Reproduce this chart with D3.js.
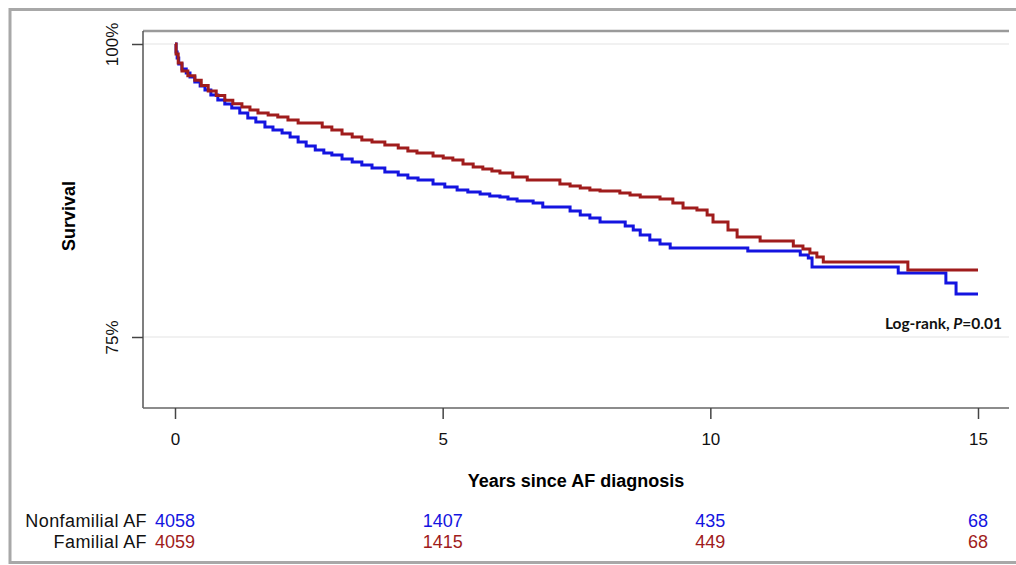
<!DOCTYPE html>
<html>
<head>
<meta charset="utf-8">
<script src="https://cdn.jsdelivr.net/npm/d3@7"></script>
<style>
  body { margin: 0; background: #fff; }
  svg { display: block; font-family: "Liberation Sans", Arial, sans-serif; }
</style>
</head>
<body>
<svg id="km"></svg>
<script>
// Kaplan-Meier survival (years, survival %)
const nonfamilialTime = [0, 0.02, 0.04, 0.07, 0.13, 0.21, 0.28, 0.37, 0.47, 0.56, 0.67, 0.80, 0.93, 1.06, 1.21, 1.36, 1.51, 1.68, 1.83, 2.00, 2.15, 2.30, 2.45, 2.62, 2.78, 2.93, 3.12, 3.31, 3.49, 3.68, 3.92, 4.17, 4.35, 4.54, 4.82, 5.04, 5.27, 5.47, 5.70, 5.88, 6.07, 6.22, 6.39, 6.69, 6.87, 7.38, 7.57, 7.75, 7.94, 8.41, 8.56, 8.69, 8.87, 9.06, 9.25, 10.70, 11.68, 11.83, 11.90, 13.51, 14.40, 14.59, 15.0];
const nonfamilialSurv = [100, 99.32, 98.81, 98.29, 97.87, 97.53, 97.18, 96.76, 96.42, 96.08, 95.65, 95.22, 94.88, 94.54, 94.11, 93.69, 93.35, 92.92, 92.66, 92.41, 92.07, 91.64, 91.30, 90.96, 90.70, 90.53, 90.19, 89.93, 89.68, 89.42, 89.08, 88.82, 88.57, 88.40, 88.06, 87.80, 87.54, 87.37, 87.20, 87.03, 86.95, 86.78, 86.61, 86.43, 86.09, 85.75, 85.41, 85.15, 84.81, 84.47, 84.13, 83.70, 83.28, 82.94, 82.60, 82.34, 82.00, 81.74, 80.97, 80.46, 79.61, 78.67, 78.67];

const familialTime = [0, 0.02, 0.06, 0.13, 0.24, 0.37, 0.49, 0.62, 0.77, 0.93, 1.08, 1.25, 1.40, 1.55, 1.74, 1.92, 2.11, 2.30, 2.75, 2.93, 3.12, 3.31, 3.49, 3.68, 3.92, 4.17, 4.35, 4.52, 4.82, 5.01, 5.19, 5.38, 5.57, 5.75, 5.92, 6.07, 6.31, 6.58, 7.19, 7.38, 7.57, 7.75, 7.94, 8.31, 8.50, 8.69, 9.06, 9.30, 9.49, 9.75, 9.94, 10.05, 10.33, 10.50, 10.93, 11.55, 11.73, 11.86, 11.99, 12.11, 13.69, 15.0];
const familialSurv = [100, 99.15, 98.38, 97.70, 97.30, 96.90, 96.45, 96.00, 95.60, 95.20, 94.90, 94.62, 94.37, 94.11, 93.94, 93.77, 93.52, 93.26, 92.92, 92.66, 92.32, 92.07, 91.81, 91.64, 91.38, 91.13, 90.87, 90.70, 90.44, 90.27, 90.10, 89.76, 89.51, 89.34, 89.16, 88.99, 88.65, 88.40, 88.06, 87.89, 87.71, 87.54, 87.46, 87.29, 87.12, 86.95, 86.78, 86.43, 86.01, 85.84, 85.41, 84.81, 84.13, 83.53, 83.19, 82.77, 82.51, 82.17, 81.83, 81.40, 80.72, 80.72];

const xTicks = [0, 5, 10, 15];
const yTicks = [75, 100];
const groupNames = ["Nonfamilial AF", "Familial AF"];
const atRiskNonfamilial = [4058, 1407, 435, 68];
const atRiskFamilial = [4059, 1415, 449, 68];

const w = 1016;
const h = 565;
const blue = "#1414e0";
const red = "#a01c1c";

const svg = d3.select("#km").attr("width", w).attr("height", h);

// outer frame
svg.append("path")
  .attr("d", "M1016,9.5 H10 V562.5 H1016")
  .attr("fill", "none")
  .attr("stroke", "#a8a8a8")
  .attr("stroke-width", 3);

const plot = { left: 143, right: 1009, top: 31, bottom: 408 };

const xScale = d3.scaleLinear().domain([0, 15]).range([175, 978]);
const yScale = d3.scaleLinear().domain([75, 100]).range([337, 44]);

// light grid lines
svg.append("g")
  .selectAll("line")
  .data(yTicks)
  .enter()
  .append("line")
  .attr("x1", plot.left)
  .attr("x2", plot.right)
  .attr("y1", (d) => yScale(d))
  .attr("y2", (d) => yScale(d))
  .attr("stroke", "#ececec")
  .attr("stroke-width", 1.5);

// plot box (top, left, bottom)
svg.append("line")
  .attr("x1", plot.left).attr("x2", plot.right)
  .attr("y1", plot.top).attr("y2", plot.top)
  .attr("stroke", "#9a9a9a").attr("stroke-width", 2.5);
svg.append("line")
  .attr("x1", plot.left).attr("x2", plot.left)
  .attr("y1", plot.top).attr("y2", plot.bottom)
  .attr("stroke", "#555").attr("stroke-width", 1.5);
svg.append("line")
  .attr("x1", plot.left).attr("x2", plot.right)
  .attr("y1", plot.bottom).attr("y2", plot.bottom)
  .attr("stroke", "#666").attr("stroke-width", 1.5);

// axes
const xAxis = d3.axisBottom(xScale).tickValues(xTicks).tickSize(11).tickPadding(14);
const gx = svg.append("g")
  .attr("transform", "translate(0," + plot.bottom + ")")
  .call(xAxis);
gx.select(".domain").remove();
gx.selectAll(".tick line").attr("stroke", "#444").attr("stroke-width", 1.5);
gx.selectAll(".tick text")
  .style("font-size", "17px")
  .style("font-family", "Liberation Sans, Arial, sans-serif")
  .attr("fill", "#111");

const yAxis = d3.axisLeft(yScale).tickValues(yTicks).tickSize(11).tickFormat((d) => d + "%");
const gy = svg.append("g")
  .attr("transform", "translate(" + plot.left + ",0)")
  .call(yAxis);
gy.select(".domain").remove();
gy.selectAll(".tick line").attr("stroke", "#444").attr("stroke-width", 1.5);
gy.selectAll(".tick text")
  .attr("x", null)
  .attr("dy", null)
  .attr("text-anchor", "middle")
  .attr("transform", "translate(-25,0) rotate(-90)")
  .style("font-size", "17px")
  .style("font-family", "Liberation Sans, Arial, sans-serif")
  .attr("fill", "#111");

// axis titles
svg.append("text")
  .attr("x", 576)
  .attr("y", 487)
  .attr("text-anchor", "middle")
  .style("font-size", "18px")
  .style("font-weight", "bold")
  .text("Years since AF diagnosis");
svg.append("text")
  .attr("transform", "translate(75,216) rotate(-90)")
  .attr("text-anchor", "middle")
  .style("font-size", "18px")
  .style("font-weight", "bold")
  .text("Survival");

// survival curves
const line = d3.line()
  .x((d) => xScale(d[0]))
  .y((d) => yScale(d[1]))
  .curve(d3.curveStepAfter);

const nonfamilial = nonfamilialTime.map((t, i) => [t, nonfamilialSurv[i]]);
const familial = familialTime.map((t, i) => [t, familialSurv[i]]);

svg.append("path")
  .datum(nonfamilial)
  .attr("d", line)
  .attr("fill", "none")
  .attr("stroke", blue)
  .attr("stroke-width", 3);
svg.append("path")
  .datum(familial)
  .attr("d", line)
  .attr("fill", "none")
  .attr("stroke", red)
  .attr("stroke-width", 3);

// log-rank annotation
const lr = svg.append("text")
  .attr("x", 1002)
  .attr("y", 329)
  .attr("text-anchor", "end")
  .style("font-family", "Lato, 'Open Sans', sans-serif")
  .style("font-size", "15.5px")
  .style("font-weight", "bold")
  .attr("fill", "#111");
lr.append("tspan").text("Log-rank, ");
lr.append("tspan").style("font-style", "italic").text("P");
lr.append("tspan").text("=0.01");

// numbers at risk
const rows = [
  { name: groupNames[0], values: atRiskNonfamilial, color: blue, y: 527 },
  { name: groupNames[1], values: atRiskFamilial, color: red, y: 548 },
];
rows.forEach((row) => {
  svg.append("text")
    .attr("x", 147)
    .attr("y", row.y)
    .attr("text-anchor", "end")
    .style("font-size", "18px")
    .style("letter-spacing", "0.4px")
    .attr("fill", "#111")
    .text(row.name);
  svg.append("g")
    .selectAll("text")
    .data(row.values)
    .enter()
    .append("text")
    .attr("x", (d, i) => xScale(xTicks[i]))
    .attr("y", row.y)
    .attr("text-anchor", "middle")
    .style("font-size", "18px")
    .attr("fill", row.color)
    .text((d) => d);
});
</script>
</body>
</html>
